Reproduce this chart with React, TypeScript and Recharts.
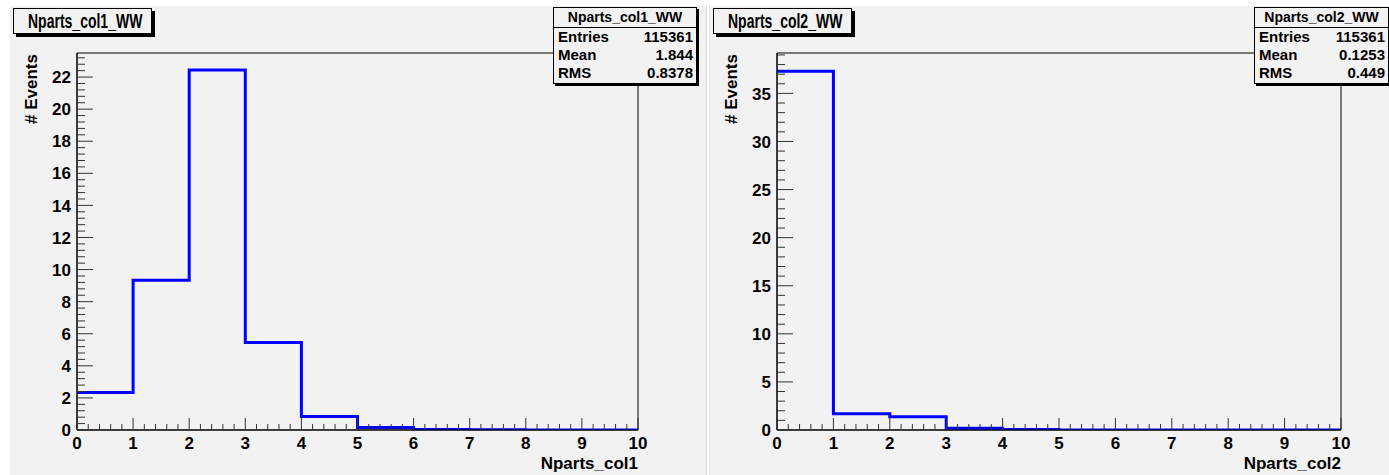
import { Line, LineChart, ReferenceArea, XAxis, YAxis } from 'recharts'

// bin low edges, 10 bins of width 1
const binEdges = [0, 1, 2, 3, 4, 5, 6, 7, 8, 9, 10]
const col1Values = [2.34, 9.33, 22.44, 5.46, 0.84, 0.16, 0.03, 0.012, 0.005, 0.002]
const col2Values = [37.3, 1.68, 1.38, 0.18, 0.04, 0.01, 0.005, 0.002, 0.001, 0.0005]

const xTickLabels = [0, 1, 2, 3, 4, 5, 6, 7, 8, 9, 10]
const col1YTicks = [0, 2, 4, 6, 8, 10, 12, 14, 16, 18, 20, 22]
const col2YTicks = [0, 5, 10, 15, 20, 25, 30, 35]

const col1Stats = { name: 'Nparts_col1_WW', entries: '115361', mean: '1.844', rms: '0.8378' }
const col2Stats = { name: 'Nparts_col2_WW', entries: '115361', mean: '0.1253', rms: '0.449' }

const FONT = '"Liberation Sans", Arial, Helvetica, sans-serif'
const PAD_BG = '#f2f2f2'

function minorTicks(max: number, step: number) {
  const out: number[] = []
  for (let i = 0; i * step <= max + 1e-9; i++) out.push(Math.round(i * step * 1000) / 1000)
  return out
}

function toSteps(values: number[]) {
  // stepAfter needs a closing point at the upper edge
  return binEdges.map((x, i) => ({ x, v: values[Math.min(i, values.length - 1)] }))
}

function YTick(props: any) {
  const { x, y, payload, majors } = props
  const major = majors.includes(payload.value)
  return (
    <g>
      <line x1={x} x2={x + (major ? 16 : 8)} y1={y} y2={y} stroke="#333" />
      {major && (
        <text
          x={x - 6}
          y={y}
          dy="0.36em"
          textAnchor="end"
          fontFamily={FONT}
          fontWeight="bold"
          fontSize={17}
          fill="#000"
        >
          {payload.value}
        </text>
      )}
    </g>
  )
}

function XTick(props: any) {
  const { x, y, payload } = props
  const major = xTickLabels.includes(payload.value)
  return (
    <g>
      <line x1={x} x2={x} y1={y} y2={y - (major ? 12 : 6)} stroke="#333" />
      {major && (
        <text
          x={x}
          y={y + 19}
          textAnchor="middle"
          fontFamily={FONT}
          fontWeight="bold"
          fontSize={17}
          fill="#000"
        >
          {payload.value}
        </text>
      )}
    </g>
  )
}

type PanelProps = {
  left: number
  width: number
  marginRight: number
  values: number[]
  yTicks: number[]
  yMinor: number
  yMax: number
  xTitle: string
  stats: { name: string; entries: string; mean: string; rms: string }
  statsLeft: number
  statsWidth: number
}

function Panel(p: PanelProps) {
  const data = toSteps(p.values)
  const yAll = minorTicks(p.yMax, p.yMinor)
  const xAll = minorTicks(10, 0.2)
  return (
    <div style={{ position: 'absolute', left: p.left, top: 0, width: p.width, height: 475 }}>
      <LineChart
        width={p.width}
        height={475}
        data={data}
        margin={{ top: 53, right: p.marginRight, left: 17, bottom: 15 }}
      >
        <XAxis
          dataKey="x"
          type="number"
          domain={[0, 10]}
          ticks={xAll}
          interval={0}
          tickSize={0}
          tickMargin={0}
          height={30}
          axisLine={{ stroke: '#000' }}
          tick={<XTick />}
          allowDataOverflow
        />
        <YAxis
          type="number"
          domain={[0, p.yMax]}
          ticks={yAll}
          interval={0}
          tickSize={0}
          tickMargin={0}
          width={60}
          axisLine={{ stroke: '#000' }}
          tick={<YTick majors={p.yTicks} />}
          allowDataOverflow
        />
        <ReferenceArea x1={0} x2={10} y1={0} y2={p.yMax} fill="none" stroke="#000" strokeWidth={1} />
        <Line
          type="stepAfter"
          dataKey="v"
          stroke="#0000ff"
          strokeWidth={3}
          dot={false}
          isAnimationActive={false}
        />
      </LineChart>
      <svg
        width={p.width}
        height={475}
        style={{ position: 'absolute', left: 0, top: 0, pointerEvents: 'none' }}
      >
        <text
          transform="translate(37,54) rotate(-90)"
          textAnchor="end"
          fontFamily={FONT}
          fontWeight="bold"
          fontSize={17}
        >
          # Events
        </text>
        <text
          x={p.width - p.marginRight}
          y={469}
          textAnchor="end"
          fontFamily={FONT}
          fontWeight="bold"
          fontSize={17}
        >
          {p.xTitle}
        </text>
      </svg>
      {/* title box, ROOT draws this font narrower */}
      <div
        style={{
          position: 'absolute',
          left: 13,
          top: 8,
          width: 137,
          height: 24,
          background: PAD_BG,
          border: '1px solid #000',
          boxShadow: '3px 3px 0 #000',
          fontFamily: FONT,
          fontWeight: 'bold',
          fontSize: 20,
          lineHeight: '25px',
          whiteSpace: 'nowrap',
          overflow: 'hidden',
        }}
      >
        <span
          style={{
            display: 'inline-block',
            transform: 'scaleX(0.7)',
            transformOrigin: '0 0',
            marginLeft: 14,
          }}
        >
          {p.stats.name}
        </span>
      </div>
      <div
        style={{
          position: 'absolute',
          left: p.statsLeft,
          top: 7,
          width: p.statsWidth,
          height: 75,
          background: PAD_BG,
          border: '1px solid #000',
          boxShadow: '2px 2px 0 #000',
          fontFamily: FONT,
          fontWeight: 'bold',
        }}
      >
        <div
          style={{
            height: 19,
            borderBottom: '1px solid #000',
            textAlign: 'center',
            fontSize: 14,
            lineHeight: '19px',
            whiteSpace: 'nowrap',
          }}
        >
          {p.stats.name}
        </div>
        {[
          ['Entries', p.stats.entries],
          ['Mean', p.stats.mean],
          ['RMS', p.stats.rms],
        ].map(([k, v]) => (
          <div
            key={k}
            style={{
              display: 'flex',
              justifyContent: 'space-between',
              padding: '0 3px 0 4px',
              height: 18,
              lineHeight: '18px',
              fontSize: 15,
            }}
          >
            <span>{k}</span>
            <span>{v}</span>
          </div>
        ))}
      </div>
    </div>
  )
}

export default function App() {
  return (
    <div
      style={{
        position: 'absolute',
        left: 0,
        top: 0,
        width: 1389,
        height: 475,
        background: '#fff',
        overflow: 'hidden',
      }}
    >
      <div style={{ position: 'absolute', left: 10, top: 6, width: 696, height: 469, background: PAD_BG, borderRight: '1px solid #d6d6d6' }} />
      <div style={{ position: 'absolute', left: 709, top: 6, width: 680, height: 469, background: PAD_BG, borderLeft: '1px solid #e4e4e4' }} />
      <Panel
        left={0}
        width={700}
        marginRight={62}
        values={col1Values}
        yTicks={col1YTicks}
        yMinor={0.4}
        yMax={23.5}
        xTitle="Nparts_col1"
        stats={col1Stats}
        statsLeft={553}
        statsWidth={142}
      />
      <Panel
        left={700}
        width={689}
        marginRight={48}
        values={col2Values}
        yTicks={col2YTicks}
        yMinor={1}
        yMax={39.2}
        xTitle="Nparts_col2"
        stats={col2Stats}
        statsLeft={554}
        statsWidth={133}
      />
    </div>
  )
}
